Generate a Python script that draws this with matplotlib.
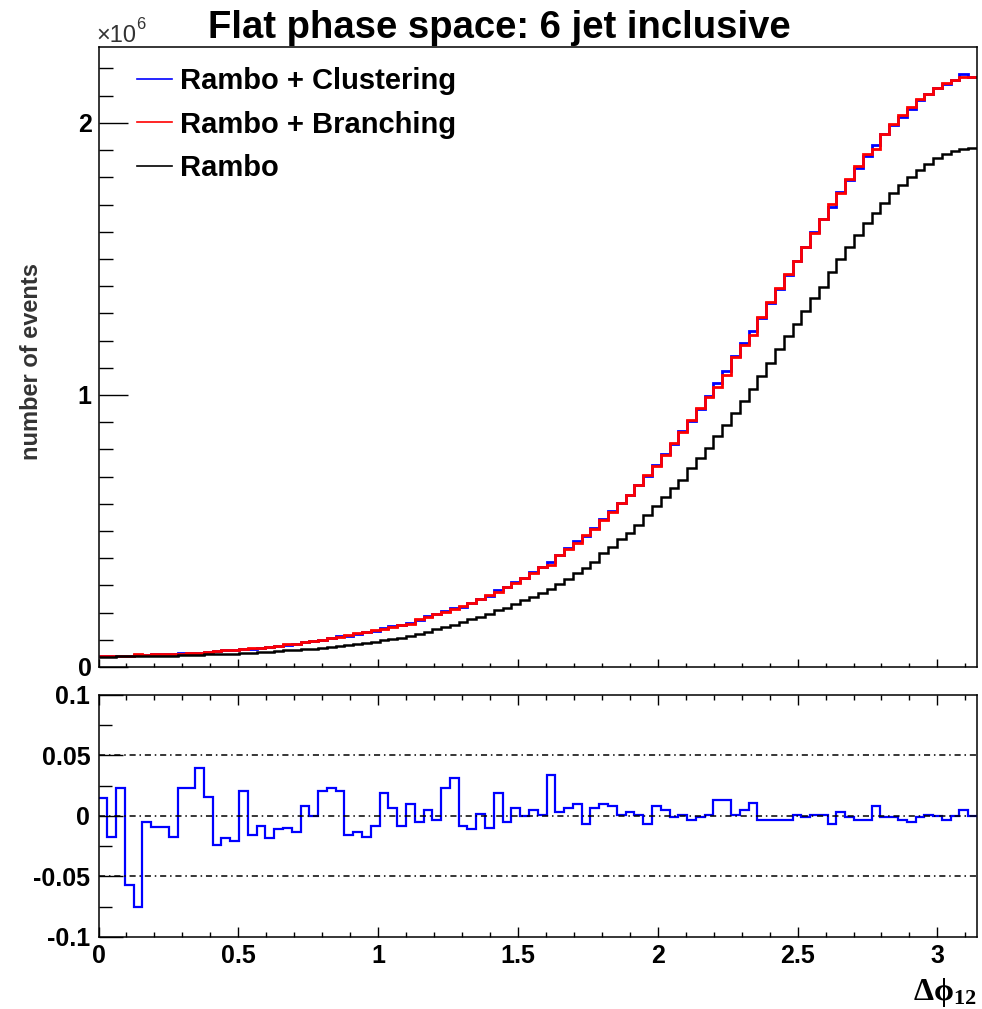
import numpy as np
import matplotlib
matplotlib.use("Agg")
import matplotlib.pyplot as plt
from matplotlib.lines import Line2D

# 100 bins in delta phi between jet 1 and 2, from 0 to pi
n_bins = 100
phi_max = np.pi

# number of events (in units of 1e6)
rambo = [
    0.038, 0.038, 0.039, 0.039, 0.040, 0.040, 0.041, 0.041, 0.042, 0.043,
    0.043, 0.044, 0.046, 0.047, 0.048, 0.049, 0.050, 0.053, 0.054, 0.056,
    0.059, 0.061, 0.063, 0.065, 0.068, 0.070, 0.073, 0.077, 0.081, 0.085,
    0.089, 0.093, 0.098, 0.103, 0.108, 0.114, 0.121, 0.130, 0.139, 0.146,
    0.154, 0.164, 0.177, 0.183, 0.194, 0.210, 0.218, 0.232, 0.246, 0.259,
    0.271, 0.286, 0.305, 0.324, 0.344, 0.363, 0.387, 0.420, 0.441, 0.471,
    0.491, 0.522, 0.559, 0.590, 0.624, 0.657, 0.688, 0.730, 0.767, 0.804,
    0.849, 0.890, 0.933, 0.979, 1.021, 1.071, 1.116, 1.168, 1.217, 1.261,
    1.310, 1.355, 1.398, 1.451, 1.500, 1.545, 1.588, 1.631, 1.668, 1.705,
    1.741, 1.770, 1.800, 1.827, 1.849, 1.870, 1.885, 1.898, 1.905, 1.907,
]
branching = [
    0.040, 0.041, 0.041, 0.042, 0.048, 0.044, 0.047, 0.048, 0.048, 0.049,
    0.050, 0.050, 0.055, 0.060, 0.062, 0.064, 0.066, 0.069, 0.071, 0.075,
    0.078, 0.083, 0.086, 0.091, 0.097, 0.099, 0.105, 0.111, 0.117, 0.124,
    0.130, 0.135, 0.139, 0.148, 0.155, 0.159, 0.175, 0.185, 0.195, 0.201,
    0.212, 0.224, 0.237, 0.250, 0.265, 0.277, 0.295, 0.310, 0.328, 0.347,
    0.369, 0.375, 0.412, 0.433, 0.457, 0.485, 0.507, 0.539, 0.568, 0.602,
    0.632, 0.669, 0.706, 0.737, 0.779, 0.822, 0.865, 0.908, 0.951, 0.994,
    1.031, 1.074, 1.141, 1.184, 1.221, 1.288, 1.343, 1.393, 1.444, 1.492,
    1.545, 1.597, 1.646, 1.702, 1.741, 1.793, 1.840, 1.885, 1.903, 1.960,
    1.996, 2.029, 2.060, 2.087, 2.105, 2.127, 2.148, 2.156, 2.168, 2.170,
]
# relative difference (clustering - branching) / branching, lower pad
rel_diff = [
    0.015, -0.017, 0.023, -0.057, -0.075, -0.005, -0.009, -0.009, -0.017, 0.023,
    0.023, 0.040, 0.016, -0.024, -0.018, -0.021, 0.021, -0.016, -0.008, -0.018,
    -0.011, -0.010, -0.013, 0.008, 0.000, 0.021, 0.023, 0.021, -0.016, -0.013,
    -0.017, -0.008, 0.019, 0.007, -0.008, 0.010, -0.005, 0.005, -0.003, 0.023,
    0.031, -0.008, -0.011, 0.002, -0.010, 0.019, -0.005, 0.007, 0.000, 0.005,
    0.001, 0.034, 0.003, 0.007, 0.010, -0.007, 0.007, 0.010, 0.008, 0.001,
    0.003, 0.001, -0.007, 0.008, 0.005, -0.001, 0.001, -0.003, -0.001, 0.001,
    0.013, 0.013, 0.001, 0.005, 0.011, -0.003, -0.003, -0.003, -0.003, 0.001,
    -0.001, 0.001, 0.001, -0.007, 0.003, -0.001, -0.003, -0.003, 0.008, -0.001,
    -0.001, -0.003, -0.005, -0.001, 0.001, 0.000, -0.003, 0.000, 0.005, 0.000,
]

labels = ["Rambo + Clustering", "Rambo + Branching", "Rambo"]
colors = ["#0000ff", "#ff0000", "#000000"]

edges = np.linspace(0, phi_max, n_bins + 1)
rambo = np.array(rambo)
branching = np.array(branching)
rel_diff = np.array(rel_diff)
clustering = branching * (1 + rel_diff)

plt.rcParams["font.family"] = ["Liberation Sans", "DejaVu Sans"]
plt.rcParams["font.weight"] = "bold"
plt.rcParams["mathtext.fontset"] = "custom"
plt.rcParams["mathtext.rm"] = "Liberation Serif"
plt.rcParams["mathtext.it"] = "Liberation Serif"

W, H = 982, 1009
fig = plt.figure(figsize=(W / 100, H / 100), dpi=100)

x0, x1 = 98.5, 977
ax = fig.add_axes([x0 / W, 1 - 667 / H, (x1 - x0) / W, (667 - 47) / H])
axr = fig.add_axes([x0 / W, 1 - 937 / H, (x1 - x0) / W, (937 - 695) / H])

# upper pad: the three histograms
ax.stairs(clustering, edges, baseline=None, color=colors[0], lw=2)
ax.stairs(branching, edges, baseline=None, color=colors[1], lw=2)
ax.stairs(rambo, edges, baseline=None, color=colors[2], lw=1.8)
ax.set_xlim(0, phi_max)
ax.set_ylim(0, 2.279)

ax.set_yticks([0, 1, 2])
ax.set_yticks(np.arange(0, 2.25, 0.1), minor=True)
ax.set_xticks(np.arange(0, 3.2, 0.5))
ax.set_xticks(np.arange(0, 3.15, 0.1), minor=True)
ax.tick_params(axis="y", which="major", direction="in", length=21, width=1,
               labelsize=18, pad=5)
ax.tick_params(axis="y", which="minor", direction="in", length=10, width=1)
ax.tick_params(axis="x", which="major", direction="in", length=6, width=1,
               labelbottom=False)
ax.tick_params(axis="x", which="minor", direction="in", length=3, width=1)

handles = [Line2D([], [], color=c, lw=1.2) for c in colors]
ax.legend(handles, labels, loc="upper left", bbox_to_anchor=(0.0438, 0.967),
          frameon=False, fontsize=21, handlelength=1.2, handletextpad=0.27,
          labelspacing=0.52, borderaxespad=0, borderpad=0)

# lower pad: relative difference
axr.stairs(rel_diff, edges, baseline=None, color=colors[0], lw=1.6)
for yv in (-0.05, 0, 0.05):
    axr.axhline(yv, color="black", lw=1.1, ls=(0, (4, 2.5, 1, 2.5)))
axr.set_xlim(0, phi_max)
axr.set_ylim(-0.1, 0.1)
axr.set_yticks([-0.1, -0.05, 0, 0.05, 0.1])
axr.set_yticklabels(["-0.1", "-0.05", "0", "0.05", "0.1"])
axr.set_yticks(np.arange(-0.1, 0.101, 0.025), minor=True)
axr.set_xticks(np.arange(0, 3.2, 0.5))
axr.set_xticklabels(["0", "0.5", "1", "1.5", "2", "2.5", "3"])
axr.set_xticks(np.arange(0, 3.15, 0.1), minor=True)
axr.tick_params(axis="y", which="major", direction="in", length=17, width=1,
                labelsize=18, pad=6)
axr.tick_params(axis="y", which="minor", direction="in", length=9, width=1)
axr.tick_params(axis="x", which="both", direction="in", top=True, width=1,
                labelsize=18, pad=5)
axr.tick_params(axis="x", which="major", length=7)
axr.tick_params(axis="x", which="minor", length=3.5)

for a in (ax, axr):
    for s in a.spines.values():
        s.set_linewidth(1.1)

fig.text(0.508, 1 - 37.5 / H, "Flat phase space: 6 jet inclusive",
         ha="center", va="baseline", fontsize=27.5, fontweight="bold")
fig.text(96 / W, 1 - 42 / H, "\u00d710", ha="left", va="baseline",
         fontsize=17, fontweight="normal", color="#333333")
fig.text(136 / W, 1 - 29 / H, "6", ha="left", va="baseline",
         fontsize=12, fontweight="normal", color="#333333")
fig.text(32 / W, 1 - 361 / H, "number of events", rotation=90,
         ha="center", va="center", fontsize=17, fontweight="bold",
         color="#333333")
fig.text(977 / W, 1 - 1000 / H, r"$\mathrm{\Delta\phi_{12}}$", ha="right",
         va="baseline", fontsize=23, fontweight="normal")

fig.savefig("out.png", dpi=100)
